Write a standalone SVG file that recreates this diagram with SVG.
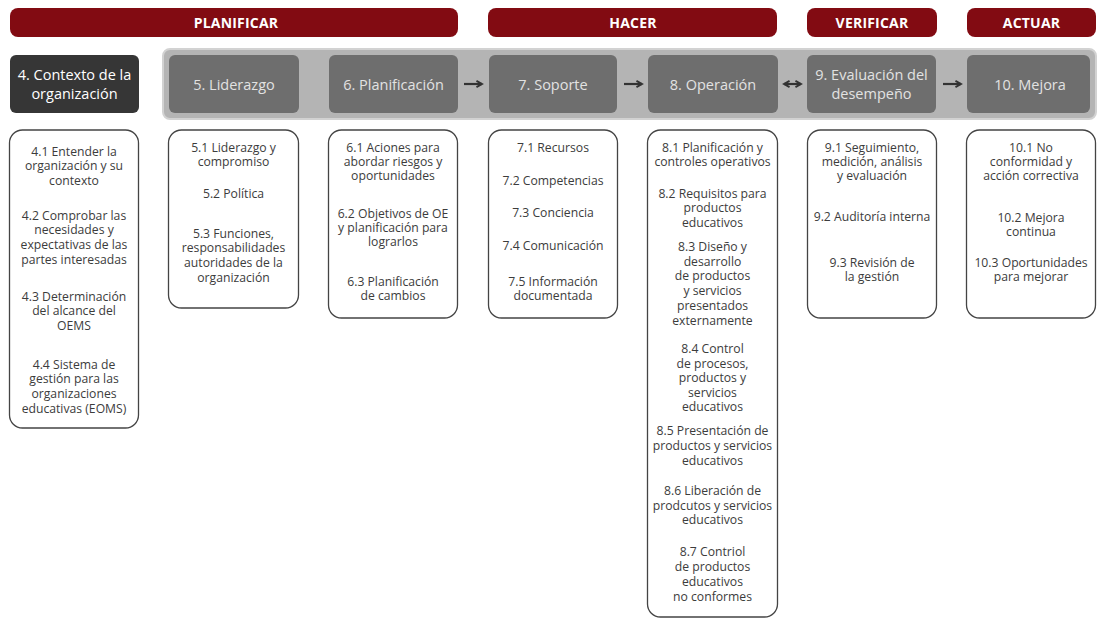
<svg xmlns="http://www.w3.org/2000/svg" width="1101" height="619" viewBox="0 0 1101 619">
  <style>
    .phase { fill: #820b12; }
    .phase-t { font-family: "Open Sans", "Liberation Sans", sans-serif; font-size: 14px; font-weight: 700; fill: #ffffff; text-anchor: middle; letter-spacing: 0.2px; }
    .band { fill: #b4b4b4; stroke: #d2d2d2; stroke-width: 2; }
    .clause { fill: #6e6e6e; }
    .clause-dark { fill: #363636; }
    .clause-t { font-family: "Open Sans", "Liberation Sans", sans-serif; font-size: 14.5px; fill: #e2e2e2; text-anchor: middle; }
    .clause-dark-t { font-family: "Open Sans", "Liberation Sans", sans-serif; font-size: 14.5px; fill: #ffffff; text-anchor: middle; }
    .list { fill: #ffffff; stroke: #444444; stroke-width: 1.3; }
    .list-t { font-family: "Open Sans", "Liberation Sans", sans-serif; font-size: 12.2px; fill: #3c3c3c; text-anchor: middle; }
    .conn { stroke: #333333; stroke-width: 2.2; fill: none; }
  </style>
  <defs>
    <marker id="head" viewBox="0 0 10 10" refX="8" refY="5" markerWidth="3.6" markerHeight="3.6" orient="auto-start-reverse">
      <path d="M1,1 L8,5 L1,9" fill="none" stroke="#333333" stroke-width="2.4"/>
    </marker>
  </defs>

  <!-- PDCA phase headers -->
  <g id="phase-planificar">
    <rect class="phase" x="10" y="8" width="448" height="29" rx="8"/>
    <text class="phase-t" x="236" y="27.5">PLANIFICAR</text>
  </g>
  <g id="phase-hacer">
    <rect class="phase" x="488" y="8" width="289" height="29" rx="8"/>
    <text class="phase-t" x="633" y="27.5">HACER</text>
  </g>
  <g id="phase-verificar">
    <rect class="phase" x="807" y="8" width="130" height="29" rx="8"/>
    <text class="phase-t" x="872" y="27.5">VERIFICAR</text>
  </g>
  <g id="phase-actuar">
    <rect class="phase" x="967" y="8" width="129" height="29" rx="8"/>
    <text class="phase-t" x="1031.5" y="27.5">ACTUAR</text>
  </g>

  <!-- grey band behind clauses 5-10 -->
  <rect class="band" x="163" y="49" width="933" height="70" rx="7"/>

  <!-- clause headings -->
  <g id="c4">
    <rect class="clause-dark" x="10" y="55" width="129" height="58" rx="6"/>
    <text class="clause-dark-t" x="74.5" y="80">4. Contexto de la</text>
    <text class="clause-dark-t" x="74.5" y="99">organización</text>
  </g>
  <g id="c5">
    <rect class="clause" x="169" y="55" width="130" height="58" rx="6"/>
    <text class="clause-t" x="234" y="89.5">5. Liderazgo</text>
  </g>
  <g id="c6">
    <rect class="clause" x="329" y="55" width="129" height="58" rx="6"/>
    <text class="clause-t" x="393.5" y="89.5">6. Planificación</text>
  </g>
  <g id="c7">
    <rect class="clause" x="489" y="55" width="128" height="58" rx="6"/>
    <text class="clause-t" x="553" y="89.5">7. Soporte</text>
  </g>
  <g id="c8">
    <rect class="clause" x="648" y="55" width="130" height="58" rx="6"/>
    <text class="clause-t" x="713" y="89.5">8. Operación</text>
  </g>
  <g id="c9">
    <rect class="clause" x="807" y="55" width="129" height="58" rx="6"/>
    <text class="clause-t" x="871.5" y="80">9. Evaluación del</text>
    <text class="clause-t" x="871.5" y="99">desempeño</text>
  </g>
  <g id="c10">
    <rect class="clause" x="967" y="55" width="123" height="58" rx="6"/>
    <text class="clause-t" x="1030" y="89.5">10. Mejora</text>
  </g>

  <!-- flow arrows between clauses -->
  <g id="connectors">
    <line class="conn" x1="464" y1="84" x2="482" y2="84" marker-end="url(#head)"/>
    <line class="conn" x1="624" y1="84" x2="642" y2="84" marker-end="url(#head)"/>
    <line class="conn" x1="784" y1="84" x2="801" y2="84" marker-start="url(#head)" marker-end="url(#head)"/>
    <line class="conn" x1="943" y1="84" x2="961" y2="84" marker-end="url(#head)"/>
  </g>

  <!-- sub-clause lists -->
  <g id="l4">
    <rect class="list" x="9.5" y="130" width="129" height="298" rx="13"/>
    <text class="list-t" x="74" y="156">4.1 Entender la</text>
    <text class="list-t" x="74" y="170">organización y su</text>
    <text class="list-t" x="74" y="185">contexto</text>
    <text class="list-t" x="74" y="220">4.2 Comprobar las</text>
    <text class="list-t" x="74" y="234">necesidades y</text>
    <text class="list-t" x="74" y="249">expectativas de las</text>
    <text class="list-t" x="74" y="264">partes interesadas</text>
    <text class="list-t" x="74" y="301">4.3 Determinación</text>
    <text class="list-t" x="74" y="315">del alcance del</text>
    <text class="list-t" x="74" y="330">OEMS</text>
    <text class="list-t" x="74" y="369">4.4 Sistema de</text>
    <text class="list-t" x="74" y="383">gestión para las</text>
    <text class="list-t" x="74" y="398">organizaciones</text>
    <text class="list-t" x="74" y="413">educativas (EOMS)</text>
  </g>
  <g id="l5">
    <rect class="list" x="168.5" y="130" width="130" height="178" rx="13"/>
    <text class="list-t" x="233.5" y="152">5.1 Liderazgo y</text>
    <text class="list-t" x="233.5" y="166">compromiso</text>
    <text class="list-t" x="233.5" y="198">5.2 Política</text>
    <text class="list-t" x="233.5" y="238">5.3 Funciones,</text>
    <text class="list-t" x="233.5" y="252">responsabilidades</text>
    <text class="list-t" x="233.5" y="267">autoridades de la</text>
    <text class="list-t" x="233.5" y="282">organización</text>
  </g>
  <g id="l6">
    <rect class="list" x="328.5" y="130" width="129" height="188" rx="13"/>
    <text class="list-t" x="393" y="152">6.1 Aciones para</text>
    <text class="list-t" x="393" y="166">abordar riesgos y</text>
    <text class="list-t" x="393" y="180">oportunidades</text>
    <text class="list-t" x="393" y="218">6.2 Objetivos de OE</text>
    <text class="list-t" x="393" y="232">y planificación para</text>
    <text class="list-t" x="393" y="246">lograrlos</text>
    <text class="list-t" x="393" y="286">6.3 Planificación</text>
    <text class="list-t" x="393" y="300">de cambios</text>
  </g>
  <g id="l7">
    <rect class="list" x="488.5" y="130" width="129" height="188" rx="13"/>
    <text class="list-t" x="553" y="152">7.1 Recursos</text>
    <text class="list-t" x="553" y="185">7.2 Competencias</text>
    <text class="list-t" x="553" y="217">7.3 Conciencia</text>
    <text class="list-t" x="553" y="250">7.4 Comunicación</text>
    <text class="list-t" x="553" y="286">7.5 Información</text>
    <text class="list-t" x="553" y="300">documentada</text>
  </g>
  <g id="l8">
    <rect class="list" x="647.5" y="130" width="130" height="487" rx="13"/>
    <text class="list-t" x="712.5" y="152">8.1 Planificación y</text>
    <text class="list-t" x="712.5" y="166">controles operativos</text>
    <text class="list-t" x="712.5" y="198">8.2 Requisitos para</text>
    <text class="list-t" x="712.5" y="212">productos</text>
    <text class="list-t" x="712.5" y="227">educativos</text>
    <text class="list-t" x="712.5" y="251">8.3 Diseño y</text>
    <text class="list-t" x="712.5" y="266">desarrollo</text>
    <text class="list-t" x="712.5" y="280">de productos</text>
    <text class="list-t" x="712.5" y="295">y servicios</text>
    <text class="list-t" x="712.5" y="310">presentados</text>
    <text class="list-t" x="712.5" y="325">externamente</text>
    <text class="list-t" x="712.5" y="353">8.4 Control</text>
    <text class="list-t" x="712.5" y="368">de procesos,</text>
    <text class="list-t" x="712.5" y="382">productos y</text>
    <text class="list-t" x="712.5" y="397">servicios</text>
    <text class="list-t" x="712.5" y="411">educativos</text>
    <text class="list-t" x="712.5" y="435">8.5 Presentación de</text>
    <text class="list-t" x="712.5" y="450">productos y servicios</text>
    <text class="list-t" x="712.5" y="465">educativos</text>
    <text class="list-t" x="712.5" y="495">8.6 Liberación de</text>
    <text class="list-t" x="712.5" y="510">prodcutos y servicios</text>
    <text class="list-t" x="712.5" y="524">educativos</text>
    <text class="list-t" x="712.5" y="556">8.7 Contriol</text>
    <text class="list-t" x="712.5" y="571">de productos</text>
    <text class="list-t" x="712.5" y="586">educativos</text>
    <text class="list-t" x="712.5" y="601">no conformes</text>
  </g>
  <g id="l9">
    <rect class="list" x="807.5" y="130" width="129" height="188" rx="13"/>
    <text class="list-t" x="872" y="152">9.1 Seguimiento,</text>
    <text class="list-t" x="872" y="166">medición, análisis</text>
    <text class="list-t" x="872" y="180">y evaluación</text>
    <text class="list-t" x="872" y="221">9.2 Auditoría interna</text>
    <text class="list-t" x="872" y="267">9.3 Revisión de</text>
    <text class="list-t" x="872" y="281">la gestión</text>
  </g>
  <g id="l10">
    <rect class="list" x="966.5" y="130" width="129" height="188" rx="13"/>
    <text class="list-t" x="1031" y="152">10.1 No</text>
    <text class="list-t" x="1031" y="166">conformidad y</text>
    <text class="list-t" x="1031" y="180">acción correctiva</text>
    <text class="list-t" x="1031" y="222">10.2 Mejora</text>
    <text class="list-t" x="1031" y="236">continua</text>
    <text class="list-t" x="1031" y="267">10.3 Oportunidades</text>
    <text class="list-t" x="1031" y="281">para mejorar</text>
  </g>
</svg>
